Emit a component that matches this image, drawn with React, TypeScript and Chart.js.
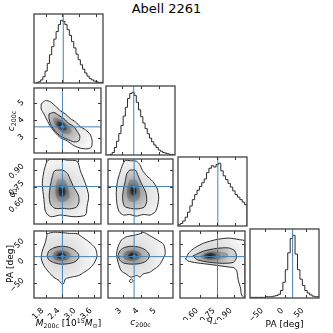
import React, { useEffect, useRef } from "react";
import { Chart, registerables } from "chart.js";

Chart.register(...registerables);

// ---------------- DATA ----------------
const TITLE = "Abell 2261";

// axis ranges
const M_RANGE = [1.37, 3.87];
const C_RANGE = [2.1, 5.88];
const Q_RANGE = [0.42, 1.0];
const PA_RANGE = [-87, 83];

// ticks
const M_TICKS = [1.8, 2.4, 3.0, 3.6];
const C_TICKS = [3, 4, 5];
const Q_TICKS = [0.6, 0.75, 0.9];
const PA_TICKS = [-50, 0, 50];
const M_TICK_LABELS = ["1.8", "2.4", "3.0", "3.6"];
const C_TICK_LABELS = ["3", "4", "5"];
const Q_TICK_LABELS = ["0.60", "0.75", "0.90"];
const PA_TICK_LABELS = ["\u221250", "0", "50"];

// truth values (blue lines)
const TRUTH_M = 2.43;
const TRUTH_C = 3.62;
const TRUTH_Q = 0.755;
const TRUTH_PA = 18;

// 1D histograms (bin start, bin width, counts relative to peak)
const M_HIST_START = 1.45;
const M_HIST_WIDTH = 0.08;
const M_HIST = [1, 2, 5, 10, 19, 31, 45, 58, 70, 82, 93, 100, 98, 93, 85, 76, 66, 56, 46, 37, 29, 22, 16, 11, 7, 5, 3, 2, 1, 1];

const C_HIST_START = 2.2;
const C_HIST_WIDTH = 0.12;
const C_HIST = [0, 1, 4, 12, 22, 34, 47, 62, 76, 90, 98, 100, 95, 84, 72, 61, 51, 42, 34, 27, 21, 16, 12, 8, 6, 4, 3, 2, 1, 1];

const Q_HIST_START = 0.42;
const Q_HIST_WIDTH = 0.02;
const Q_HIST = [2, 4, 8, 14, 22, 32, 42, 50, 57, 63, 69, 75, 85, 92, 96, 94, 98, 100, 88, 80, 74, 68, 62, 56, 50, 46, 42, 38, 34];

const PA_HIST_START = -90;
const PA_HIST_WIDTH = 6;
const PA_HIST = [1, 1, 1, 1, 1, 1, 1, 2, 2, 2, 3, 4, 6, 12, 25, 45, 72, 95, 100, 70, 45, 30, 20, 12, 8, 5, 3, 2, 2, 1];

// 2D contours [x, y]
const MC_OUTER = [[1.64, 4.96], [1.8, 5.15], [1.99, 5.07], [2.17, 4.83], [2.36, 4.55], [2.54, 4.37], [2.73, 4.1], [2.92, 3.91], [3.1, 3.63], [3.29, 3.45], [3.47, 3.17], [3.54, 2.8], [3.51, 2.44], [3.35, 2.34], [3.1, 2.38], [2.86, 2.53], [2.61, 2.8], [2.36, 2.99], [2.17, 3.27], [1.99, 3.63], [1.86, 4.0], [1.74, 4.37], [1.64, 4.65]];
const MC_INNER = [[1.93, 4.37], [2.11, 4.46], [2.3, 4.28], [2.48, 4.1], [2.67, 3.82], [2.86, 3.63], [2.98, 3.36], [3.08, 3.08], [3.04, 2.8], [2.86, 2.75], [2.61, 2.9], [2.36, 3.08], [2.17, 3.36], [2.0, 3.73], [1.93, 4.1]];
const MC_CORE1 = [[2.11, 4.18], [2.36, 4.04], [2.61, 3.73], [2.79, 3.36], [2.67, 3.17], [2.42, 3.3], [2.21, 3.63], [2.09, 3.96]];
const MC_CORE2 = [[2.26, 3.96], [2.48, 3.78], [2.61, 3.49], [2.48, 3.41], [2.3, 3.6], [2.21, 3.82]];

const MQ_OUTER = [[1.99, 1.0], [2.36, 1.0], [2.6, 0.99], [2.98, 0.98], [3.1, 0.894], [3.29, 0.78], [3.41, 0.67], [3.35, 0.58], [3.29, 0.5], [2.86, 0.485], [2.36, 0.5], [1.99, 0.485], [1.8, 0.53], [1.74, 0.64], [1.68, 0.78], [1.74, 0.89], [1.86, 0.98]];
const MQ_INNER = [[2.2, 0.9], [2.45, 0.9], [2.62, 0.87], [2.72, 0.82], [2.85, 0.75], [3.02, 0.68], [3.05, 0.62], [2.95, 0.57], [2.7, 0.555], [2.45, 0.56], [2.15, 0.56], [1.98, 0.6], [1.94, 0.68], [1.98, 0.76], [2.05, 0.84], [2.12, 0.89]];
const MQ_CORE1 = [[2.25, 0.82], [2.5, 0.82], [2.65, 0.74], [2.7, 0.66], [2.55, 0.62], [2.3, 0.62], [2.18, 0.68], [2.18, 0.76]];
const MQ_CORE2 = [[2.32, 0.77], [2.5, 0.76], [2.55, 0.69], [2.45, 0.66], [2.32, 0.67], [2.28, 0.72]];

const CQ_OUTER = [[3.1, 0.99], [3.4, 0.985], [3.75, 0.98], [3.95, 0.95], [4.1, 0.9], [4.35, 0.85], [4.7, 0.8], [4.95, 0.74], [5.05, 0.66], [4.98, 0.58], [4.85, 0.53], [4.55, 0.5], [4.15, 0.505], [3.75, 0.49], [3.35, 0.505], [3.0, 0.5], [2.75, 0.53], [2.62, 0.6], [2.58, 0.7], [2.65, 0.8], [2.8, 0.88], [2.95, 0.95]];
const CQ_INNER = [[3.35, 0.9], [3.7, 0.9], [3.85, 0.85], [4.05, 0.78], [4.3, 0.7], [4.35, 0.62], [4.2, 0.57], [3.8, 0.555], [3.4, 0.56], [3.05, 0.58], [2.95, 0.65], [3.0, 0.73], [3.1, 0.8], [3.2, 0.87]];
const CQ_CORE1 = [[3.35, 0.82], [3.75, 0.81], [3.95, 0.73], [3.95, 0.65], [3.7, 0.62], [3.35, 0.62], [3.2, 0.68], [3.25, 0.77]];
const CQ_CORE2 = [[3.45, 0.77], [3.7, 0.76], [3.75, 0.7], [3.6, 0.67], [3.45, 0.68], [3.4, 0.72]];

const MP_OUTER = [[1.86, 76], [2.1, 80], [2.4, 79], [2.7, 77], [2.98, 76], [3.2, 66], [3.41, 56], [3.66, 39], [3.72, 19], [3.6, 0], [3.41, -14], [3.23, -22], [3.04, -30], [2.73, -34.5], [2.54, -38.7], [2.48, -50], [2.4, -51], [2.3, -42.6], [2.11, -34.5], [1.93, -22], [1.74, -5], [1.64, 14], [1.68, 32], [1.8, 56]];
const MP_INNER = [[1.86, 20], [1.92, 32], [2.1, 40], [2.35, 44], [2.6, 43], [2.85, 36], [3.02, 25], [3.04, 15], [2.9, 5], [2.65, 0], [2.35, -1], [2.1, 3], [1.92, 10]];
const MP_CORE1 = [[2.05, 20], [2.15, 30], [2.4, 34], [2.65, 30], [2.75, 20], [2.62, 10], [2.4, 7], [2.15, 10]];
const MP_CORE2 = [[2.2, 20], [2.3, 27], [2.45, 28], [2.58, 22], [2.5, 14], [2.35, 13], [2.22, 16]];

const CP_OUTER = [[2.87, 60], [3.15, 68], [3.6, 72], [3.96, 76], [4.14, 80], [4.5, 72], [4.97, 60], [5.33, 49], [5.43, 26], [5.24, 7.5], [5.06, -5], [4.78, -14], [4.51, -22], [4.14, -26], [3.96, -34], [3.78, -30], [3.42, -34], [3.15, -26], [2.87, -18], [2.69, 2.5], [2.6, 23], [2.69, 44]];
const CP_ISLAND = [[3.35, -42], [3.45, -39], [3.56, -43], [3.47, -48], [3.36, -46]];
const CP_INNER = [[2.69, 20], [2.78, 32], [3.0, 40], [3.35, 44], [3.8, 43], [4.2, 37], [4.45, 27], [4.5, 17], [4.3, 6], [3.9, 0], [3.4, -1], [3.0, 2], [2.78, 9]];
const CP_CORE1 = [[2.95, 20], [3.1, 30], [3.5, 34], [3.9, 31], [4.05, 20], [3.85, 10], [3.45, 7], [3.1, 10]];
const CP_CORE2 = [[3.25, 20], [3.4, 27], [3.65, 28], [3.85, 22], [3.7, 14], [3.45, 13], [3.3, 16]];

const QP_OUTER = [[0.47, 12], [0.5, 28], [0.55, 40], [0.63, 52], [0.74, 61], [0.855, 65], [0.95, 61], [1.0, 57], [1.0, -87], [0.97, -80], [0.96, -62], [0.94, -42], [0.925, -17], [0.9, -10], [0.87, -9], [0.77, -5], [0.66, -1], [0.55, 3], [0.49, 7]];
const QP_INNER = [[0.535, 19.6], [0.63, 32], [0.743, 38.7], [0.855, 40], [0.91, 32], [0.924, 15.5], [0.896, 3.5], [0.798, 1], [0.686, 3.5], [0.575, 10]];
const QP_CORE1 = [[0.6, 20], [0.66, 28], [0.76, 31], [0.84, 27], [0.85, 18], [0.78, 11], [0.68, 10], [0.62, 14]];
const QP_CORE2 = [[0.63, 20], [0.66, 25], [0.72, 26], [0.75, 21], [0.72, 15], [0.65, 15]];

// ---------------- LAYOUT / STYLE ----------------
const S = 69;
const P = 2;
const YW = 30;
const XH = 22;
const COL_LEFT = [34, 106, 178, 250];
const ROW_TOP = [14, 86, 157, 229];
const TRUTH_COLOR = "#4682b4";
const LINE_COLOR = "#2b2b2b";
const FONT = "'DejaVu Sans', sans-serif";

type Var = { range: number[]; ticks: number[]; labels: string[]; truth: number; yOff: number };
const VARS: Var[] = [
  { range: M_RANGE, ticks: M_TICKS, labels: M_TICK_LABELS, truth: TRUTH_M, yOff: -3 },
  { range: C_RANGE, ticks: C_TICKS, labels: C_TICK_LABELS, truth: TRUTH_C, yOff: -2 },
  { range: Q_RANGE, ticks: Q_TICKS, labels: Q_TICK_LABELS, truth: TRUTH_Q, yOff: -5 },
  { range: PA_RANGE, ticks: PA_TICKS, labels: PA_TICK_LABELS, truth: TRUTH_PA, yOff: -4 },
];

const HISTS = [
  { start: M_HIST_START, width: M_HIST_WIDTH, vals: M_HIST },
  { start: C_HIST_START, width: C_HIST_WIDTH, vals: C_HIST },
  { start: Q_HIST_START, width: Q_HIST_WIDTH, vals: Q_HIST },
  { start: PA_HIST_START, width: PA_HIST_WIDTH, vals: PA_HIST },
];

type Contours = { outer: number[][]; inner: number[][]; core1: number[][]; core2: number[][]; extra?: number[][][] };
const CONTOURS: Record<string, Contours> = {
  "1-0": { outer: MC_OUTER, inner: MC_INNER, core1: MC_CORE1, core2: MC_CORE2 },
  "2-0": { outer: MQ_OUTER, inner: MQ_INNER, core1: MQ_CORE1, core2: MQ_CORE2 },
  "2-1": { outer: CQ_OUTER, inner: CQ_INNER, core1: CQ_CORE1, core2: CQ_CORE2 },
  "3-0": { outer: MP_OUTER, inner: MP_INNER, core1: MP_CORE1, core2: MP_CORE2 },
  "3-1": { outer: CP_OUTER, inner: CP_INNER, core1: CP_CORE1, core2: CP_CORE2, extra: [CP_ISLAND] },
  "3-2": { outer: QP_OUTER, inner: QP_INNER, core1: QP_CORE1, core2: QP_CORE2 },
};

function closed(arr: number[][]) {
  const d = arr.map(([x, y]) => ({ x, y }));
  d.push({ x: arr[0][0], y: arr[0][1] });
  return d;
}

function centroid(arr: number[][]) {
  let sx = 0, sy = 0;
  arr.forEach(([x, y]) => { sx += x; sy += y; });
  return [sx / arr.length, sy / arr.length];
}

function histPoints(start: number, width: number, vals: number[]) {
  const d: { x: number; y: number }[] = [{ x: start, y: 0 }];
  vals.forEach((v, i) => d.push({ x: start + i * width, y: v }));
  const end = start + vals.length * width;
  d.push({ x: end, y: vals[vals.length - 1] });
  d.push({ x: end, y: 0 });
  return d;
}

// radial shading centred on the density peak (style only)
function shade(center: number[], stops: [number, string][], radius: number, fallback: string) {
  return (c: any) => {
    const chart = c.chart;
    if (!chart.chartArea || !chart.scales.x) return fallback;
    const cx = chart.scales.x.getPixelForValue(center[0]);
    const cy = chart.scales.y.getPixelForValue(center[1]);
    const g = chart.ctx.createRadialGradient(cx, cy, 0, cx, cy, radius);
    stops.forEach(([o, col]) => g.addColorStop(o, col));
    return g;
  };
}

function shape(arr: number[][], fillColor: any, stroke: boolean) {
  return {
    data: closed(arr),
    fill: "shape",
    backgroundColor: fillColor,
    borderColor: stroke ? LINE_COLOR : "rgba(0,0,0,0)",
    borderWidth: stroke ? 1 : 0,
    pointRadius: 0,
    tension: 0.25,
  };
}

function makeFrame(xv: Var, yv: Var | null) {
  return {
    id: "cornerFrame",
    afterDatasetsDraw(chart: any) {
      const { ctx, chartArea: a, scales } = chart;
      ctx.save();
      ctx.strokeStyle = "#333";
      ctx.lineWidth = 1;
      ctx.beginPath();
      for (const v of xv.ticks) {
        const px = Math.round(scales.x.getPixelForValue(v)) + 0.5;
        ctx.moveTo(px, a.top);
        ctx.lineTo(px, a.top + 3);
        ctx.moveTo(px, a.bottom);
        ctx.lineTo(px, a.bottom - 3);
      }
      if (yv) {
        for (const v of yv.ticks) {
          const py = Math.round(scales.y.getPixelForValue(v)) + 0.5;
          ctx.moveTo(a.left, py);
          ctx.lineTo(a.left + 3, py);
          ctx.moveTo(a.right, py);
          ctx.lineTo(a.right - 3, py);
        }
      }
      ctx.stroke();
      ctx.strokeStyle = "#444";
      ctx.lineWidth = 1.3;
      ctx.strokeRect(a.left, a.top, a.right - a.left, a.bottom - a.top);
      ctx.restore();
    },
  };
}

function Panel({ row, col }: { row: number; col: number }) {
  const ref = useRef<HTMLCanvasElement>(null);
  const isHist = row === col;
  const showX = row === 3;
  const showY = col === 0 && row > 0;
  const xv = VARS[col];
  const yv = isHist ? null : VARS[row];
  const left = COL_LEFT[col] - P - (showY ? YW : 0);
  const top = ROW_TOP[row] - P;
  const w = S + 2 * P + (showY ? YW : 0);
  const h = S + 2 * P + (showX ? XH : 0);

  useEffect(() => {
    const datasets: any[] = [];
    if (isHist) {
      const hd = HISTS[col];
      datasets.push({
        data: [{ x: xv.truth, y: -10 }, { x: xv.truth, y: 200 }],
        borderColor: TRUTH_COLOR, borderWidth: 1, pointRadius: 0, fill: false,
      });
      datasets.push({
        data: histPoints(hd.start, hd.width, hd.vals),
        stepped: "before", borderColor: LINE_COLOR, borderWidth: 1, pointRadius: 0, fill: false,
      });
    } else {
      const ct = CONTOURS[`${row}-${col}`];
      const yr = yv!.range;
      const xr = xv.range;
      const cen = centroid(ct.core2);
      datasets.push({
        data: [{ x: xv.truth, y: yv!.truth }],
        showLine: false, pointRadius: 2, pointBackgroundColor: TRUTH_COLOR, pointBorderWidth: 0,
      });
      datasets.push({
        data: [{ x: xv.truth, y: yr[0] - 100 }, { x: xv.truth, y: yr[1] + 100 }],
        borderColor: TRUTH_COLOR, borderWidth: 1, pointRadius: 0, fill: false,
      });
      datasets.push({
        data: [{ x: xr[0] - 100, y: yv!.truth }, { x: xr[1] + 100, y: yv!.truth }],
        borderColor: TRUTH_COLOR, borderWidth: 1, pointRadius: 0, fill: false,
      });
      datasets.push(shape(ct.core2, shade(cen, [[0, "#1a1a1a"], [1, "#505050"]], 6, "#303030"), false));
      datasets.push(shape(ct.core1, shade(cen, [[0, "#505050"], [1, "#9a9a9a"]], 12, "#7c7c7c"), false));
      datasets.push(shape(ct.inner, shade(cen, [[0, "#8a8a8a"], [1, "#d0d0d0"]], 20, "#c4c4c4"), true));
      (ct.extra || []).forEach((e) => datasets.push(shape(e, "#f6f6f6", true)));
      datasets.push(shape(ct.outer, shade(cen, [[0, "#d4d4d4"], [0.5, "#e6e6e6"], [1, "#fbfbfb"]], 38, "#eeeeee"), true));
    }

    const tickFont = { family: FONT, size: 8 };
    const chart = new Chart(ref.current as HTMLCanvasElement, {
      type: "line",
      data: { datasets },
      options: {
        animation: false,
        responsive: false,
        maintainAspectRatio: false,
        devicePixelRatio: 1,
        events: [],
        layout: { padding: P },
        plugins: { legend: { display: false }, tooltip: { enabled: false } },
        scales: {
          x: {
            type: "linear",
            min: xv.range[0],
            max: xv.range[1],
            display: showX,
            position: "bottom",
            grid: { display: false },
            border: { display: false },
            afterBuildTicks: (s: any) => { s.ticks = xv.ticks.map((v) => ({ value: v })); },
            afterFit: (s: any) => { s.height = showX ? XH : 0; s.paddingLeft = 0; s.paddingRight = 0; },
            ticks: {
              autoSkip: false, minRotation: 45, maxRotation: 45, padding: 0, color: "#000",
              font: tickFont, labelOffset: -3,
              callback: (_v: any, i: number) => xv.labels[i],
            },
          },
          y: isHist
            ? { type: "linear", min: 0, max: 110, display: false,
                afterFit: (s: any) => { s.width = 0; s.paddingTop = 0; s.paddingBottom = 0; } }
            : {
                type: "linear",
                min: yv!.range[0],
                max: yv!.range[1],
                display: showY,
                position: "left",
                grid: { display: false },
                border: { display: false },
                afterBuildTicks: (s: any) => { s.ticks = yv!.ticks.map((v) => ({ value: v })); },
                afterFit: (s: any) => { s.width = showY ? YW : 0; s.paddingTop = 0; s.paddingBottom = 0; },
                ticks: {
                  autoSkip: false, minRotation: 45, maxRotation: 45, padding: 3, color: "#000",
                  font: tickFont, labelOffset: yv!.yOff,
                  callback: (_v: any, i: number) => yv!.labels[i],
                },
              },
        },
      } as any,
      plugins: [makeFrame(xv, yv)],
    });
    return () => chart.destroy();
  }, []);

  return (
    <canvas
      ref={ref}
      width={w}
      height={h}
      style={{ position: "absolute", left, top, width: w, height: h }}
    />
  );
}

const sub = { fontSize: "70%", verticalAlign: "-0.3em", lineHeight: 0 } as const;
const sup = { fontSize: "70%", verticalAlign: "0.45em", lineHeight: 0 } as const;
const labelBase = {
  position: "absolute" as const,
  fontFamily: FONT,
  fontSize: 9,
  whiteSpace: "nowrap" as const,
  color: "#000",
  lineHeight: "12px",
};

export default function App() {
  const panels: any[] = [];
  for (let r = 0; r < 4; r++) for (let c = 0; c <= r; c++) panels.push(<Panel key={`${r}-${c}`} row={r} col={c} />);
  const xc = (i: number) => COL_LEFT[i] + S / 2;
  const yc = (i: number) => ROW_TOP[i] + S / 2;
  const xLab = (i: number, y: number) => ({ ...labelBase, left: xc(i), top: y, transform: "translate(-50%,-50%)" });
  const yLab = (i: number, x: number) => ({ ...labelBase, left: x, top: yc(i), transform: "translate(-50%,-50%) rotate(-90deg)" });
  return (
    <div style={{ position: "fixed", left: 0, top: 0, width: 333, height: 333, background: "#fff", overflow: "hidden" }}>
      <div style={{ position: "absolute", left: 0, width: 333, top: 1, textAlign: "center", fontFamily: FONT, fontSize: 13, lineHeight: "15px", color: "#000" }}>
        {TITLE}
      </div>
      {panels}
      <div style={xLab(0, 323)}>
        <i>M</i><span style={sub}>200c</span> [10<span style={sup}>15</span><i>M</i><span style={sub}>⊙</span>]
      </div>
      <div style={xLab(1, 322)}>
        <i>c</i><span style={sub}>200c</span>
      </div>
      <div style={xLab(2, 319)}>
        <i>q</i><span style={sub}>⊥</span>
      </div>
      <div style={xLab(3, 324)}>PA [deg]</div>
      <div style={yLab(1, 11)}>
        <i>c</i><span style={sub}>200c</span>
      </div>
      <div style={yLab(2, 12)}>
        <i>q</i><span style={sub}>⊥</span>
      </div>
      <div style={yLab(3, 10)}>PA [deg]</div>
    </div>
  );
}
